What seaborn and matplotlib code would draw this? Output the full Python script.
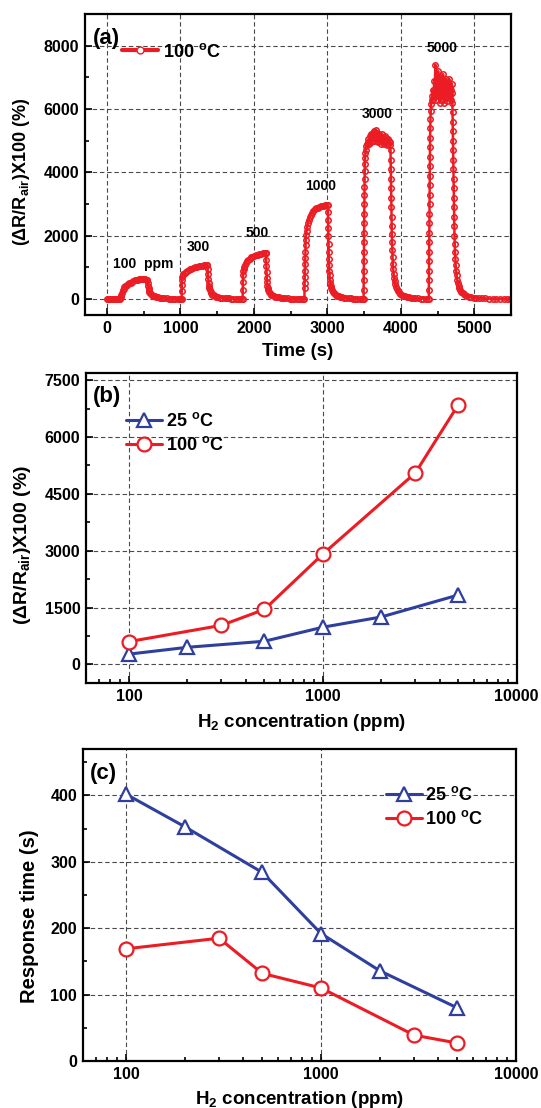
import matplotlib
matplotlib.use("Agg")
import matplotlib.pyplot as plt
from matplotlib.lines import Line2D
from matplotlib.ticker import MultipleLocator, NullFormatter
import seaborn as sns
import pandas as pd

# ---- panel (a): response transient at 100 C, (time s, response %) ----
baseline_start = [(0, 0), (20, 0), (40, 0), (60, 0), (80, 0), (100, 0), (120, 0),
                  (140, 0), (160, 0), (175, 0)]

pulse_100 = [(185, 60), (195, 140), (205, 210), (215, 280), (225, 330), (235, 370),
             (245, 400), (255, 425), (270, 455), (285, 480), (300, 500), (320, 525),
             (340, 550), (360, 570), (380, 590), (400, 605), (420, 615), (440, 622),
             (460, 628), (480, 630), (500, 630), (520, 627), (540, 620), (550, 610),
             (555, 520), (560, 420), (565, 340), (570, 280), (578, 230), (588, 190),
             (600, 160), (615, 132), (630, 112), (650, 92), (670, 76), (695, 62),
             (720, 50), (750, 40), (780, 32), (810, 26), (840, 20), (870, 16),
             (900, 12), (930, 9), (960, 7), (990, 5)]

pulse_300 = [(1005, 3), (1015, 0), (1017, 250), (1019, 450), (1021, 600), (1024, 700),
             (1030, 760), (1040, 800), (1055, 840), (1070, 870), (1090, 900),
             (1110, 925), (1130, 945), (1150, 965), (1175, 985), (1200, 1005),
             (1225, 1020), (1250, 1035), (1275, 1050), (1300, 1060), (1320, 1070),
             (1340, 1078), (1355, 1080), (1365, 1070), (1370, 950), (1374, 800),
             (1378, 650), (1382, 520), (1387, 420), (1393, 340), (1400, 280),
             (1410, 220), (1420, 180), (1435, 145), (1450, 118), (1470, 95),
             (1490, 78), (1515, 62), (1540, 50), (1570, 40), (1600, 32), (1630, 26),
             (1660, 21), (1690, 17), (1720, 14), (1750, 11), (1780, 9), (1810, 7),
             (1835, 5)]

pulse_500 = [(1846, 0), (1848, 300), (1850, 550), (1852, 750), (1855, 880), (1860, 960),
             (1868, 1030), (1878, 1090), (1890, 1150), (1905, 1200), (1920, 1240),
             (1940, 1280), (1960, 1315), (1980, 1340), (2000, 1360), (2025, 1380),
             (2050, 1400), (2075, 1420), (2100, 1435), (2125, 1450), (2145, 1460),
             (2158, 1465), (2163, 1450), (2166, 1250), (2169, 1050), (2172, 850),
             (2175, 680), (2179, 540), (2184, 430), (2190, 350), (2198, 280),
             (2208, 225), (2220, 180), (2235, 145), (2250, 120), (2270, 98),
             (2290, 80), (2315, 65), (2340, 53), (2370, 43), (2400, 35), (2430, 28),
             (2460, 23), (2490, 19), (2520, 15), (2550, 12), (2580, 10), (2610, 8),
             (2640, 6), (2670, 4)]

pulse_1000 = [(2687, 0), (2689, 350), (2691, 520), (2693, 700), (2695, 900), (2697, 1100),
              (2699, 1300), (2701, 1500), (2703, 1700), (2706, 1880), (2710, 2020),
              (2716, 2150), (2724, 2280), (2734, 2400), (2746, 2500), (2760, 2590),
              (2775, 2660), (2790, 2720), (2810, 2780), (2830, 2830), (2850, 2865),
              (2870, 2890), (2890, 2910), (2910, 2930), (2930, 2945), (2950, 2955),
              (2970, 2965), (2990, 2970), (3005, 2960), (3008, 2750), (3010, 2500),
              (3012, 2250), (3014, 2000), (3016, 1750), (3018, 1500), (3020, 1280),
              (3023, 1080), (3026, 900), (3030, 750), (3035, 620), (3041, 510),
              (3048, 420), (3056, 345), (3065, 285), (3075, 235), (3088, 190),
              (3102, 155), (3118, 127), (3135, 104), (3155, 85), (3178, 68),
              (3200, 56), (3230, 44), (3260, 35), (3290, 28), (3320, 22), (3350, 18),
              (3380, 14), (3410, 11), (3440, 9), (3465, 7), (3485, 5)]

pulse_3000 = [(3493, 0), (3494, 300), (3495, 600), (3496, 900), (3497, 1200), (3498, 1500),
              (3499, 1800), (3500, 2100), (3501, 2400), (3502, 2700), (3503, 3000),
              (3504, 3300), (3505, 3550), (3507, 3800), (3509, 4050), (3511, 4250),
              (3514, 4450), (3518, 4600), (3523, 4720), (3530, 4820), (3540, 4900),
              (3550, 4950), (3560, 5050), (3570, 4900), (3580, 5150), (3590, 4950),
              (3600, 5200), (3610, 4980), (3620, 5250), (3630, 5000), (3640, 5300),
              (3650, 5050), (3660, 5350), (3670, 5000), (3680, 5250), (3690, 4950),
              (3700, 5200), (3710, 5000), (3720, 5150), (3730, 4900), (3740, 5200),
              (3750, 4950), (3760, 5100), (3770, 4900), (3780, 5150), (3790, 4950),
              (3800, 5100), (3810, 4850), (3820, 5050), (3830, 4900), (3840, 5000),
              (3850, 4850), (3857, 4950), (3860, 4700), (3862, 4400), (3864, 4100),
              (3866, 3800), (3868, 3500), (3870, 3200), (3872, 2900), (3874, 2600),
              (3876, 2300), (3878, 2050), (3881, 1800), (3884, 1550), (3888, 1320),
              (3892, 1120), (3897, 950), (3903, 800), (3910, 670), (3918, 560),
              (3927, 465), (3937, 385), (3948, 320), (3960, 265), (3975, 215),
              (3992, 175), (4010, 142), (4030, 115), (4055, 92), (4080, 74),
              (4110, 58), (4140, 46), (4170, 37), (4200, 30), (4235, 24), (4270, 19),
              (4305, 15), (4340, 11), (4372, 8)]

pulse_5000 = [(4381, 0), (4382, 300), (4383, 600), (4384, 900), (4385, 1200), (4386, 1500),
              (4387, 1800), (4388, 2100), (4389, 2400), (4390, 2700), (4391, 3000),
              (4392, 3300), (4393, 3600), (4394, 3900), (4395, 4200), (4396, 4500),
              (4397, 4800), (4399, 5100), (4401, 5400), (4404, 5700), (4408, 5950),
              (4413, 6150), (4420, 6300), (4428, 6400), (4435, 6600), (4445, 6300),
              (4455, 6900), (4462, 6500), (4470, 7400), (4478, 6700), (4485, 6300),
              (4492, 7000), (4500, 6600), (4508, 7200), (4515, 6450), (4522, 6800),
              (4530, 6200), (4538, 7000), (4545, 6600), (4552, 6300), (4560, 6900),
              (4568, 6500), (4575, 7100), (4582, 6650), (4590, 6200), (4598, 6800),
              (4605, 6500), (4612, 6950), (4620, 6400), (4628, 6700), (4635, 6250),
              (4642, 6850), (4650, 6550), (4658, 6950), (4665, 6450), (4672, 6700),
              (4680, 6300), (4688, 6600), (4695, 6800), (4700, 6500), (4702, 6200),
              (4704, 5900), (4706, 5600), (4708, 5300), (4710, 5000), (4712, 4700),
              (4714, 4400), (4716, 4100), (4718, 3800), (4720, 3500), (4722, 3200),
              (4724, 2900), (4726, 2600), (4728, 2300), (4731, 2000), (4734, 1750),
              (4738, 1500), (4742, 1280), (4747, 1080), (4753, 900), (4760, 750),
              (4768, 620), (4777, 510), (4787, 420), (4798, 345), (4810, 285),
              (4825, 230), (4842, 185), (4860, 150), (4880, 122), (4905, 98),
              (4930, 79), (4960, 63), (4990, 51), (5020, 42), (5060, 34), (5100, 27),
              (5150, 21), (5200, 16), (5250, 12), (5300, 9), (5350, 7), (5400, 5),
              (5450, 3), (5491, 0)]

# concentration labels placed over each pulse (time, response, text)
pulse_labels = [(497, 1108, "100  ppm"), (1248, 1636, "300"), (2040, 2080, "500"),
                (2906, 3585, "1000"), (3681, 5854, "3000"), (4557, 7930, "5000")]

# ---- panel (b): response vs H2 concentration ----
conc_25 = [100, 200, 500, 1000, 2000, 5000]
resp_25 = [270, 450, 610, 980, 1250, 1830]
conc_100 = [100, 300, 500, 1000, 3000, 5000]
resp_100 = [600, 1030, 1450, 2910, 5050, 6850]

# ---- panel (c): response time vs H2 concentration ----
rtime_25 = [402, 353, 284, 192, 136, 80]
rtime_100 = [169, 185, 132, 110, 39, 27]

RED = "#ec1c24"
BLUE = "#2e3f9e"
GRID = "#4a4a4a"

sns.set_style("ticks")
plt.rcParams["font.family"] = ["Liberation Sans", "DejaVu Sans"]
plt.rcParams["font.weight"] = "bold"
plt.rcParams["axes.labelweight"] = "bold"
plt.rcParams["text.color"] = "black"
plt.rcParams["axes.labelcolor"] = "black"
plt.rcParams["xtick.color"] = "black"
plt.rcParams["ytick.color"] = "black"
plt.rcParams["mathtext.fontset"] = "custom"
plt.rcParams["mathtext.rm"] = "Liberation Sans:bold"
plt.rcParams["mathtext.bf"] = "Liberation Sans:bold"
plt.rcParams["mathtext.it"] = "Liberation Sans:bold"
plt.rcParams["mathtext.default"] = "bf"

fig = plt.figure(figsize=(5.41, 11.08), dpi=100)
ax_a = fig.add_axes([0.1571, 0.7157, 0.7874, 0.2717])
ax_b = fig.add_axes([0.1590, 0.3833, 0.7960, 0.2798])
ax_c = fig.add_axes([0.1529, 0.0424, 0.8010, 0.2816])

resp_label = "(\u0394R/R$_{air}$)X100 (%)"
conc_label = "H$_2$ concentration (ppm)"


def style_axes(ax):
    for sp in ax.spines.values():
        sp.set_visible(True)
        sp.set_linewidth(1.6)
        sp.set_color("black")
    ax.tick_params(which="both", direction="in", top=False, right=False,
                   width=1.2, labelsize=11.5, pad=4, colors="black")
    ax.tick_params(which="major", length=5)
    ax.tick_params(which="minor", length=3)
    ax.grid(True, which="major", linestyle=(0, (4, 2.5)), color=GRID, linewidth=0.8)
    ax.set_axisbelow(True)


# (a) transient
trace = pd.DataFrame(baseline_start + pulse_100 + pulse_300 + pulse_500 + pulse_1000
                     + pulse_3000 + pulse_5000, columns=["time", "response"])
sns.lineplot(data=trace, x="time", y="response", ax=ax_a, color=RED, linewidth=1.8,
             marker="o", markersize=3.9, markerfacecolor="none", markeredgecolor=RED,
             markeredgewidth=1.1, estimator=None, sort=False, legend=False)
ax_a.set_xlim(-300, 5500)
ax_a.set_ylim(-500, 9000)
ax_a.xaxis.set_major_locator(MultipleLocator(1000))
ax_a.xaxis.set_minor_locator(MultipleLocator(500))
ax_a.yaxis.set_major_locator(MultipleLocator(2000))
ax_a.yaxis.set_minor_locator(MultipleLocator(1000))
style_axes(ax_a)
for tx, ty, txt in pulse_labels:
    ax_a.text(tx, ty, txt, ha="center", va="center", fontsize=10, fontweight="bold")
handle_a = Line2D([], [], color=RED, linewidth=3, marker="o", markersize=5,
                  markerfacecolor="white", markeredgecolor=RED, markeredgewidth=1)
ax_a.legend([handle_a], ["100 $^{o}$C"], loc="center left",
            bbox_to_anchor=(0.086, 0.875), frameon=False, borderpad=0,
            borderaxespad=0, handlelength=2.0, handletextpad=0.3,
            prop={"size": 13, "weight": "bold"})
ax_a.set_xlabel("Time (s)", fontsize=13.5, fontweight="bold")
ax_a.set_ylabel(resp_label, fontsize=13, fontweight="bold")
ax_a.xaxis.set_label_coords(0.5, -0.122)
ax_a.xaxis.label.set_va("center")
ax_a.yaxis.set_label_coords(-0.148, 0.475)
ax_a.yaxis.label.set_va("center")
ax_a.text(0.019, 0.917, "(a)", transform=ax_a.transAxes, ha="left", va="center",
          fontsize=16, fontweight="bold")


def conc_panel(ax):
    ax.set_xscale("log")
    ax.set_xlim(60, 10000)
    ax.set_xticks([100, 1000, 10000])
    ax.set_xticklabels(["100", "1000", "10000"])
    ax.xaxis.set_minor_formatter(NullFormatter())
    style_axes(ax)


# (b) response vs concentration
conc_panel(ax_b)
sns.lineplot(x=conc_25, y=resp_25, ax=ax_b, color=BLUE, linewidth=2.2, marker="^",
             markersize=10, markerfacecolor="white", markeredgecolor=BLUE,
             markeredgewidth=1.6, estimator=None, label="25 $^{o}$C")
sns.lineplot(x=conc_100, y=resp_100, ax=ax_b, color=RED, linewidth=2.2, marker="o",
             markersize=10, markerfacecolor="white", markeredgecolor=RED,
             markeredgewidth=1.6, estimator=None, label="100 $^{o}$C")
ax_b.set_ylim(-500, 7680)
ax_b.yaxis.set_major_locator(MultipleLocator(1500))
ax_b.yaxis.set_minor_locator(MultipleLocator(750))
ax_b.legend(loc="center left", bbox_to_anchor=(0.093, 0.8065), frameon=False,
            borderpad=0, borderaxespad=0, handlelength=2.0, handletextpad=0.2,
            labelspacing=0.35, prop={"size": 13, "weight": "bold"})
ax_b.set_xlabel(conc_label, fontsize=13.5, fontweight="bold")
ax_b.set_ylabel(resp_label, fontsize=14, fontweight="bold")
ax_b.xaxis.set_label_coords(0.5, -0.125)
ax_b.xaxis.label.set_va("center")
ax_b.yaxis.set_label_coords(-0.147, 0.446)
ax_b.yaxis.label.set_va("center")
ax_b.text(0.017, 0.925, "(b)", transform=ax_b.transAxes, ha="left", va="center",
          fontsize=16, fontweight="bold")

# (c) response time vs concentration
conc_panel(ax_c)
sns.lineplot(x=conc_25, y=rtime_25, ax=ax_c, color=BLUE, linewidth=2.2, marker="^",
             markersize=10, markerfacecolor="white", markeredgecolor=BLUE,
             markeredgewidth=1.6, estimator=None, label="25 $^{o}$C")
sns.lineplot(x=conc_100, y=rtime_100, ax=ax_c, color=RED, linewidth=2.2, marker="o",
             markersize=10, markerfacecolor="white", markeredgecolor=RED,
             markeredgewidth=1.6, estimator=None, label="100 $^{o}$C")
ax_c.set_ylim(0, 470)
ax_c.yaxis.set_major_locator(MultipleLocator(100))
ax_c.yaxis.set_minor_locator(MultipleLocator(50))
ax_c.legend(loc="center left", bbox_to_anchor=(0.699, 0.814), frameon=False,
            borderpad=0, borderaxespad=0, handlelength=2.0, handletextpad=0.2,
            labelspacing=0.35, prop={"size": 13, "weight": "bold"})
ax_c.set_xlabel(conc_label, fontsize=13.5, fontweight="bold")
ax_c.set_ylabel("Response time (s)", fontsize=14.5, fontweight="bold")
ax_c.xaxis.set_label_coords(0.5, -0.122)
ax_c.xaxis.label.set_va("center")
ax_c.yaxis.set_label_coords(-0.123, 0.465)
ax_c.yaxis.label.set_va("center")
ax_c.text(0.017, 0.923, "(c)", transform=ax_c.transAxes, ha="left", va="center",
          fontsize=16, fontweight="bold")

fig.savefig("out.png", dpi=100)
plt.close(fig)
